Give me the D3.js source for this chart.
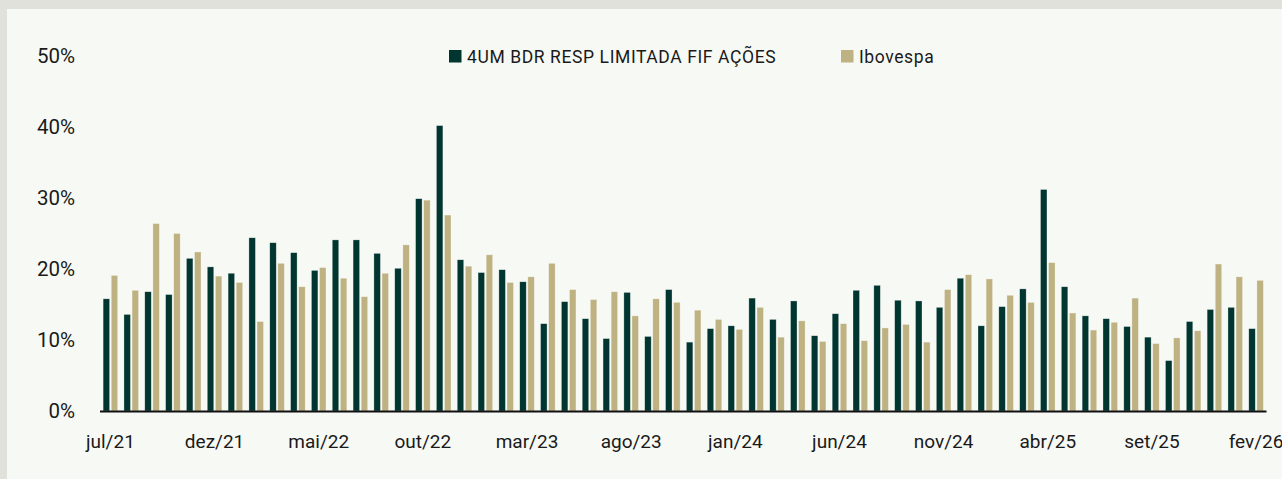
<!DOCTYPE html>
<html>
<head>
<meta charset="utf-8">
<script src="https://cdn.jsdelivr.net/npm/d3@7"></script>
<style>
  html, body { margin: 0; padding: 0; background: #e1e1dc; }
  svg { display: block; }
  text { font-family: Roboto, "Noto Sans", sans-serif; fill: #1a1a1a; }
</style>
</head>
<body>
<div class="layout"></div>
<script>
// months jul/21 .. fev/26
var months = ["jul/21","ago/21","set/21","out/21","nov/21","dez/21",
  "jan/22","fev/22","mar/22","abr/22","mai/22","jun/22","jul/22","ago/22","set/22","out/22","nov/22","dez/22",
  "jan/23","fev/23","mar/23","abr/23","mai/23","jun/23","jul/23","ago/23","set/23","out/23","nov/23","dez/23",
  "jan/24","fev/24","mar/24","abr/24","mai/24","jun/24","jul/24","ago/24","set/24","out/24","nov/24","dez/24",
  "jan/25","fev/25","mar/25","abr/25","mai/25","jun/25","jul/25","ago/25","set/25","out/25","nov/25","dez/25",
  "jan/26","fev/26"];

var fundo = [15.8,13.6,16.8,16.4,21.5,20.3,19.4,24.4,23.7,22.3,19.8,24.1,24.1,22.2,
  20.1,29.9,40.2,21.3,19.5,19.9,18.2,12.3,15.4,13.0,10.2,16.7,10.5,17.1,
  9.7,11.6,12.0,15.9,12.9,15.5,10.6,13.7,17.0,17.7,15.6,15.5,14.6,18.7,
  12.0,14.7,17.2,31.2,17.5,13.4,13.0,11.9,10.4,7.1,12.6,14.3,14.6,11.6];

var ibov = [19.1,17.0,26.4,25.0,22.4,19.0,18.1,12.6,20.8,17.5,20.2,18.7,16.1,19.4,
  23.4,29.7,27.6,20.4,22.0,18.1,18.9,20.8,17.1,15.7,16.8,13.4,15.8,15.3,
  14.2,12.9,11.5,14.6,10.4,12.7,9.8,12.3,9.9,11.7,12.2,9.7,17.1,19.2,
  18.6,16.3,15.3,20.9,13.8,11.4,12.5,15.9,9.5,10.3,11.3,20.7,18.9,18.4];

var seriesNames = ["4UM BDR RESP LIMITADA FIF AÇÕES", "Ibovespa"];
var seriesColors = ["#003530", "#bfb282"];
var yTicks = [0, 10, 20, 30, 40, 50];
var xLabelEvery = 5;

var W = 1282, H = 479;
var svg = d3.select(".layout").append("svg")
  .attr("width", W).attr("height", H);

// card background
svg.append("rect")
  .attr("x", 7).attr("y", 9)
  .attr("width", W - 7).attr("height", H - 9)
  .attr("fill", "#f7f9f4");

var x = d3.scaleBand()
  .domain(months)
  .range([100, 1266.5])
  .paddingInner(0.3)
  .paddingOuter(0.15);

var xSub = d3.scaleBand()
  .domain([0, 1])
  .range([0, x.bandwidth()])
  .paddingInner(0.2);

var y = d3.scaleLinear()
  .domain([0, 50])
  .range([411, 56]);

var rows = months.map(function(m, i) {
  return { month: m, values: [fundo[i], ibov[i]] };
});

var groups = svg.append("g").selectAll("g")
  .data(rows)
  .join("g")
  .attr("transform", function(d) { return "translate(" + x(d.month) + ",0)"; });

groups.selectAll("rect")
  .data(function(d) { return d.values.map(function(v, k) { return { k: k, v: v }; }); })
  .join("rect")
  .attr("x", function(d) { return xSub(d.k); })
  .attr("width", xSub.bandwidth())
  .attr("y", function(d) { return y(d.v); })
  .attr("height", function(d) { return y(0) - y(d.v); })
  .attr("fill", function(d) { return seriesColors[d.k]; })
  .attr("stroke", "#ffffff")
  .attr("stroke-opacity", 0.5)
  .attr("stroke-width", 0.6);

// baseline
svg.append("line")
  .attr("x1", 100).attr("x2", 1266.5)
  .attr("y1", y(0) + 0.5).attr("y2", y(0) + 0.5)
  .attr("stroke", "#111").attr("stroke-width", 1.8);

// y labels
svg.append("g").selectAll("text")
  .data(yTicks)
  .join("text")
  .attr("x", 75)
  .attr("y", function(d) { return y(d); })
  .attr("dy", "0.35em")
  .attr("text-anchor", "end")
  .style("font-size", "20.5px")
  .text(function(d) { return d + "%"; });

// x labels
svg.append("g").selectAll("text")
  .data(months.filter(function(m, i) { return i % xLabelEvery === 0; }))
  .join("text")
  .attr("x", function(d) { return x(d) + x.bandwidth() / 2; })
  .attr("y", 441)
  .attr("dy", "0.35em")
  .attr("text-anchor", "middle")
  .style("font-size", "19px")
  .text(function(d) { return d; });

// legend
var legendX = [449, 841];
var legend = svg.append("g").selectAll("g")
  .data(seriesNames)
  .join("g")
  .attr("transform", function(d, i) { return "translate(" + legendX[i] + ",50)"; });

legend.append("rect")
  .attr("width", 12.5).attr("height", 12.5)
  .attr("fill", function(d, i) { return seriesColors[i]; });

legend.append("text")
  .attr("x", 18).attr("y", 6.5)
  .attr("dy", "0.35em")
  .style("font-size", "17.5px")
  .style("letter-spacing", "0.6px")
  .text(function(d) { return d; });
</script>
</body>
</html>
